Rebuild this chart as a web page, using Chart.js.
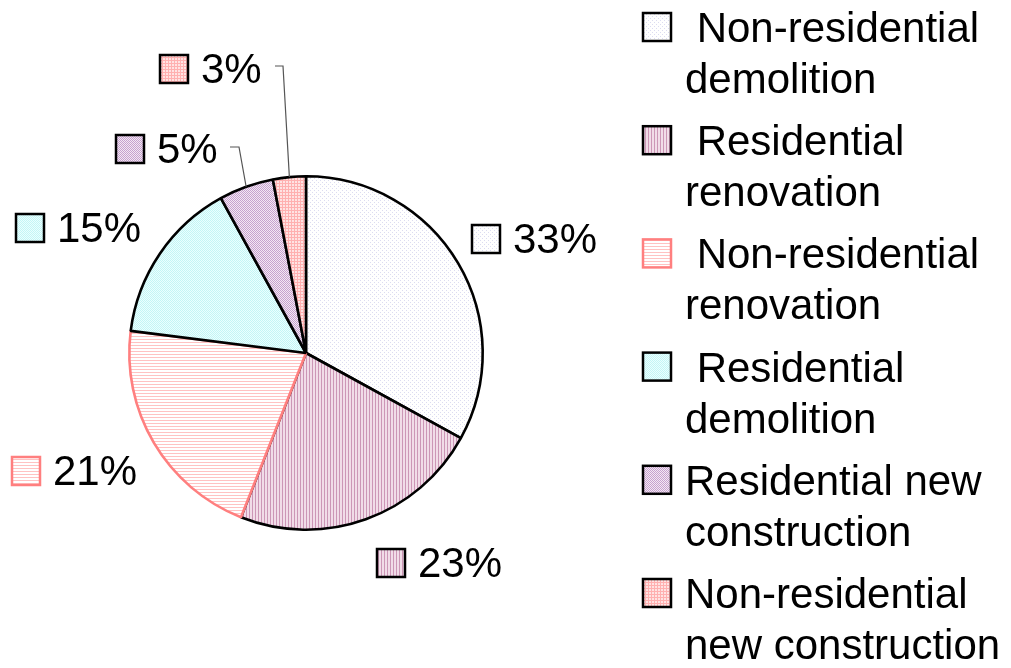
<!DOCTYPE html>
<html>
<head>
<meta charset="utf-8">
<script src="https://cdn.jsdelivr.net/npm/chart.js@4"></script>
<style>
  html, body { margin: 0; background: #fff; }
  canvas { display: block; }
</style>
</head>
<body>
<canvas id="wasteChart" width="1011" height="668"></canvas>
<script>
// data
const categories = [
    'Non-residential demolition',
    'Residential renovation',
    'Non-residential renovation',
    'Residential demolition',
    'Residential new construction',
    'Non-residential new construction'
];
const shares = [33, 23, 21, 15, 5, 3];
const legendLines = [
    [' Non-residential', 'demolition'],
    [' Residential', 'renovation'],
    [' Non-residential', 'renovation'],
    [' Residential', 'demolition'],
    ['Residential new', 'construction'],
    ['Non-residential', 'new construction']
];

// small tiled fills, like the old office patterns
function tile(size, bg, fg, draw) {
    const c = document.createElement('canvas');
    c.width = size; c.height = size;
    const g = c.getContext('2d');
    g.fillStyle = bg;
    g.fillRect(0, 0, size, size);
    g.fillStyle = fg;
    draw(g);
    return g.createPattern(c, 'repeat');
}

const ctx = document.getElementById('wasteChart').getContext('2d');

const fills = [
    tile(4, '#ffffff', '#dcdcf0', g => { g.fillRect(0, 0, 1, 1); g.fillRect(2, 2, 1, 1); }),
    tile(3, '#f1dce8', '#cc96b6', g => { g.fillRect(0, 0, 1, 3); }),
    tile(3, '#ffffff', '#ffc2c2', g => { g.fillRect(0, 0, 3, 1); }),
    tile(2, '#eaffff', '#c4f5f5', g => { g.fillRect(0, 0, 1, 1); g.fillRect(1, 1, 1, 1); }),
    tile(2, '#f4e8f3', '#c6a2cf', g => { g.fillRect(0, 0, 1, 1); g.fillRect(1, 1, 1, 1); }),
    tile(3, '#ffe3e3', '#ffb0b0', g => { g.fillRect(0, 0, 3, 1); g.fillRect(0, 0, 1, 3); })
];
const edges = ['#000', '#000', '#ff7f7f', '#000', '#000', '#000'];

// where the percentage labels sit (box left, text baseline)
const labelSpots = [
    {x: 472, y: 253}, {x: 377, y: 577}, {x: 12, y: 485},
    {x: 16, y: 242}, {x: 116, y: 163}, {x: 160, y: 83}
];
// elbows of the leader lines for the thin slices
const leaders = {4: [[230, 147], [239, 147]], 5: [[275, 66], [283, 66]]};

const FONT = '42px "Liberation Sans", Arial, sans-serif';

function swatch(c, x, y, i) {
    c.fillStyle = fills[i];
    c.fillRect(x, y, 28, 28);
    c.lineWidth = 2.5;
    c.strokeStyle = edges[i];
    c.strokeRect(x, y, 28, 28);
}

const labelsAndLegend = {
    id: 'labelsAndLegend',
    afterDatasetsDraw(chart) {
        const c = chart.ctx;
        const arcs = chart.getDatasetMeta(0).data;
        c.save();

        // leader lines
        c.strokeStyle = '#555';
        c.lineWidth = 1.2;
        Object.keys(leaders).forEach(k => {
            const a = arcs[k];
            const mid = (a.startAngle + a.endAngle) / 2;
            const pts = leaders[k];
            c.beginPath();
            c.moveTo(pts[0][0], pts[0][1]);
            c.lineTo(pts[1][0], pts[1][1]);
            c.lineTo(a.x + Math.cos(mid) * a.outerRadius, a.y + Math.sin(mid) * a.outerRadius);
            c.stroke();
        });

        // percentage labels
        c.font = FONT;
        c.textBaseline = 'alphabetic';
        c.textAlign = 'left';
        shares.forEach((v, i) => {
            const s = labelSpots[i];
            swatch(c, s.x, s.y - 28, i);
            c.fillStyle = '#000';
            c.fillText(v + '%', s.x + 41, s.y);
        });

        // legend on the right
        legendLines.forEach((lines, i) => {
            const base = 42 + i * 113.2;
            swatch(c, 643, base - 29, i);
            c.fillStyle = '#000';
            c.fillText(lines[0], 685, base);
            c.fillText(lines[1], 685, base + 51);
        });
        c.restore();
    }
};

const config = {
    type: 'pie',
    data: {
        labels: categories,
        datasets: [{
            data: shares,
            backgroundColor: fills,
            borderColor: edges,
            borderWidth: 2.6
        }]
    },
    options: {
        responsive: false,
        animation: false,
        layout: {
            padding: {left: 128, top: 175, right: 527, bottom: 137}
        },
        plugins: {
            legend: { display: false },
            tooltip: { enabled: false }
        }
    },
    plugins: [labelsAndLegend]
};

const wasteChart = new Chart(ctx, config);
</script>
</body>
</html>
